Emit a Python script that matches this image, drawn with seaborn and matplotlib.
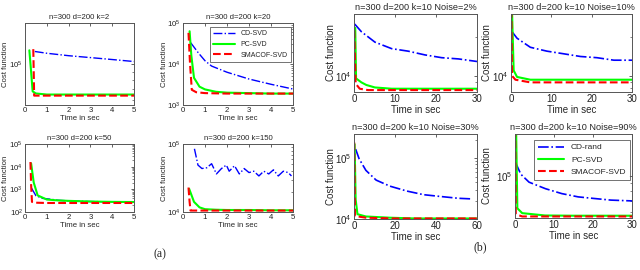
import matplotlib
matplotlib.use("Agg")
import matplotlib.pyplot as plt
import seaborn as sns
from matplotlib.ticker import NullFormatter, FixedLocator

# ---- data (time in sec, cost function) ----
# (a) n=300 d=200 k=2
a1_cd_x = [0.45, 1, 2, 3, 4, 5]
a1_cd_y = [1.20e5, 1.17e5, 1.13e5, 1.10e5, 1.07e5, 1.04e5]
a1_pc_x = [0.2, 0.28, 0.35, 0.5, 1, 2, 3, 4, 5]
a1_pc_y = [1.22e5, 9.0e4, 6.8e4, 6.6e4, 6.5e4, 6.5e4, 6.5e4, 6.5e4, 6.5e4]
a1_sm_x = [0.38, 0.40, 0.42, 0.6, 1, 2, 3, 4, 5]
a1_sm_y = [1.24e5, 9.0e4, 6.4e4, 6.4e4, 6.4e4, 6.4e4, 6.4e4, 6.4e4, 6.4e4]

# (a) n=300 d=200 k=20
a2_cd_x = [0.35, 0.7, 1.0, 1.3, 2.0, 3.0, 4.0, 5.0]
a2_cd_y = [33000, 18600, 12000, 8900, 6300, 4300, 3200, 2450]
a2_pc_x = [0.3, 0.38, 0.5, 0.75, 1.0, 1.5, 2, 3, 4, 5]
a2_pc_y = [63000, 15800, 4600, 2800, 2400, 2100, 2000, 1950, 1900, 1900]
a2_sm_x = [0.25, 0.32, 0.4, 0.6, 1, 2, 3, 4, 5]
a2_sm_y = [57500, 10000, 2350, 2050, 1950, 1900, 1900, 1900, 1900]

# (a) n=300 d=200 k=50
a3_cd_x = [0.3, 0.5, 0.8, 1.2, 1.5, 2, 3, 4, 5]
a3_cd_y = [1120, 525, 400, 365, 330, 310, 290, 280, 275]
a3_pc_x = [0.28, 0.4, 0.58, 1.0, 1.5, 2, 3, 4, 5]
a3_pc_y = [14000, 2000, 540, 355, 325, 310, 290, 280, 275]
a3_sm_x = [0.25, 0.28, 0.32, 0.5, 1, 2, 3, 4, 5]
a3_sm_y = [16000, 1600, 280, 257, 250, 250, 250, 250, 250]

# (a) n=300 d=200 k=150
a4_cd_x = [0.52, 0.68, 0.86, 1.08, 1.30, 1.52, 1.75, 1.97, 2.1, 2.34, 2.56,
           2.78, 3.0, 3.22, 3.45, 3.67, 3.9, 4.11, 4.33, 4.56, 4.78, 4.93]
a4_cd_y = [85000, 49000, 43600, 44700, 51300, 36300, 43600, 49000, 39800, 47900,
           36300, 43600, 38000, 39800, 33900, 39800, 36300, 41700, 33900, 39800,
           38000, 33900]
a4_pc_x = [0.28, 0.5, 0.75, 1.0, 1.5, 2, 3, 4, 5]
a4_pc_y = [21900, 14100, 11700, 11000, 10800, 10700, 10700, 10600, 10600]
a4_sm_x = [0.25, 0.3, 0.34, 0.6, 1, 2, 3, 4, 5]
a4_sm_y = [22900, 14100, 10500, 10500, 10500, 10500, 10500, 10500, 10500]

# (b) n=300 d=200 k=10 Noise=2%
b1_cd_x = [0.16, 1.8, 5.1, 9.2, 13.2, 17.3, 21.4, 25.5, 30]
b1_cd_y = [25100, 21900, 18200, 16200, 15500, 14500, 13800, 13500, 12900]
b1_pc_x = [0.3, 0.5, 1.8, 3.0, 5.1, 9.2, 15, 20, 25, 30]
b1_pc_y = [23400, 9550, 8900, 8500, 8130, 7950, 7950, 7950, 7950, 7950]
b1_sm_x = [0.05, 0.4, 1.4, 3.4, 10, 20, 30]
b1_sm_y = [22400, 8700, 7950, 7760, 7760, 7760, 7760]

# (b) Noise=10%
b2_cd_x = [0.25, 1.5, 4.8, 8.9, 13, 17.2, 21.3, 25.5, 30]
b2_cd_y = [21900, 19500, 16600, 15500, 14800, 14100, 13800, 13200, 13200]
b2_pc_x = [0.25, 0.66, 1.5, 4.8, 10, 17, 30]
b2_pc_y = [31600, 11000, 9800, 9330, 9330, 9330, 9330]
b2_sm_x = [0.05, 0.25, 1.1, 4.8, 10, 20, 30]
b2_sm_y = [40000, 10000, 9330, 8900, 8900, 8900, 8900]

# (b) Noise=30%
b3_cd_x = [0.8, 2.5, 5.8, 10.8, 17.5, 25.8, 34, 42.5, 51, 57.5]
b3_cd_y = [141000, 97700, 63100, 43600, 34700, 28800, 25100, 23400, 21900, 21400]
b3_pc_x = [0.3, 0.8, 1.7, 5.8, 17.5, 30, 45, 60]
b3_pc_y = [170000, 20900, 12000, 11000, 10500, 10200, 10200, 10200]
b3_sm_x = [0.1, 0.5, 5.8, 20, 40, 60]
b3_sm_y = [182000, 11200, 10500, 10200, 10200, 10200]

# (b) Noise=90%
b4_cd_x = [0.15, 1.5, 3.6, 7.8, 12, 16.2, 20.4, 24.6, 30]
b4_cd_y = [120000, 102000, 91200, 83200, 77600, 74100, 72400, 70800, 70000]
b4_pc_x = [0.3, 0.6, 1.85, 7.7, 15, 30]
b4_pc_y = [182000, 63100, 58900, 57000, 56800, 56800]
b4_sm_x = [0.02, 0.2, 1.85, 10, 20, 30]
b4_sm_y = [224000, 58100, 56200, 56200, 56200, 56200]

sns.set_style("white")
plt.rcParams["font.family"] = ["Liberation Sans", "DejaVu Sans"]

fig = plt.figure(figsize=(6.4, 2.7), dpi=100)


def box(l, t, r, b):
    return [l / 640, 1 - b / 270, (r - l) / 640, (b - t) / 270]


def panel(rect, title, series, xlim, xticks, ylim, yticks, fs, cd_label, legend_box=None,
          ylab_x=-0.15, lw=1.0, tfs=None, lfs=None):
    tfs = tfs or fs
    lfs = lfs or fs
    ax = fig.add_axes(rect)
    cd, pc, sm = series
    sns.lineplot(x=cd[0], y=cd[1], ax=ax, color="#0000ff", linestyle="-.", lw=lw,
                 estimator=None, sort=False, label=cd_label)
    sns.lineplot(x=pc[0], y=pc[1], ax=ax, color="#00ff00", linestyle="-", lw=1.5,
                 estimator=None, sort=False, label="PC-SVD")
    sns.lineplot(x=sm[0], y=sm[1], ax=ax, color="#ff0000", linestyle="--", lw=1.5,
                 estimator=None, sort=False, label="SMACOF-SVD")
    ax.set_yscale("log")
    ax.set_xlim(*xlim)
    ax.set_ylim(*ylim)
    ax.set_xticks(xticks)
    ax.yaxis.set_major_locator(FixedLocator(yticks))
    ax.yaxis.set_minor_formatter(NullFormatter())
    ax.tick_params(direction="in", top=True, right=True, labelsize=lfs, length=2,
                   width=0.5, pad=1.5, colors="#222222")
    ax.tick_params(which="minor", direction="in", right=True, length=1.2, width=0.4)
    for s in ax.spines.values():
        s.set_color("#555555")
        s.set_linewidth(0.7)
    ax.set_title(title, fontsize=tfs, pad=3)
    ax.set_xlabel("Time in sec", fontsize=lfs, labelpad=1)
    ax.set_ylabel("Cost function", fontsize=lfs, labelpad=1)
    ax.yaxis.set_label_coords(ylab_x, 0.5)
    if legend_box is not None:
        leg = ax.legend(loc="upper right", fontsize=fs - 0.6, frameon=True, fancybox=False,
                        edgecolor="#333333", handlelength=3.2, borderpad=0.45,
                        labelspacing=0.55, borderaxespad=0, bbox_to_anchor=legend_box)
        leg.get_frame().set_linewidth(0.6)
    else:
        ax.get_legend().remove()
    return ax


fa = 5.6
panel(box(25, 23, 134, 105), "n=300 d=200 k=2",
      [(a1_cd_x, a1_cd_y), (a1_pc_x, a1_pc_y), (a1_sm_x, a1_sm_y)],
      (0, 5), [0, 1, 2, 3, 4, 5], (5.6e4, 1.8e5), [1e5], fa, "CD-SVD", ylab_x=-0.15)
panel(box(183, 23, 293, 105), "n=300 d=200 k=20",
      [(a2_cd_x, a2_cd_y), (a2_pc_x, a2_pc_y), (a2_sm_x, a2_sm_y)],
      (0, 5), [0, 1, 2, 3, 4, 5], (1e3, 1e5), [1e3, 1e4, 1e5], fa, "CD-SVD",
      legend_box=(0.98, 0.95), ylab_x=-0.14)
panel(box(25, 144, 134, 212), "n=300 d=200 k=50",
      [(a3_cd_x, a3_cd_y), (a3_pc_x, a3_pc_y), (a3_sm_x, a3_sm_y)],
      (0, 5), [0, 1, 2, 3, 4, 5], (1e2, 1e5), [1e2, 1e3, 1e4, 1e5], fa, "CD-SVD",
      ylab_x=-0.15)
panel(box(183, 144, 293, 212), "n=300 d=200 k=150",
      [(a4_cd_x, a4_cd_y), (a4_pc_x, a4_pc_y), (a4_sm_x, a4_sm_y)],
      (0, 5), [0, 1, 2, 3, 4, 5], (1e4, 1e5), [1e4, 1e5], fa, "CD-SVD", ylab_x=-0.14)

fb = 6.6
fbl = 7.0
panel(box(354, 14, 477, 92), "n=300 d=200 k=10 Noise=2%",
      [(b1_cd_x, b1_cd_y), (b1_pc_x, b1_pc_y), (b1_sm_x, b1_sm_y)],
      (0, 30), [0, 10, 20, 30], (7.5e3, 3e4), [1e4], fb, "CD-rand", ylab_x=-0.145,
      lw=1.2, lfs=fbl)
panel(box(511, 14, 632, 92), "n=300 d=200 k=10 Noise=10%",
      [(b2_cd_x, b2_cd_y), (b2_pc_x, b2_pc_y), (b2_sm_x, b2_sm_y)],
      (0, 30), [0, 10, 20, 30], (7.5e3, 3e4), [1e4], fb, "CD-rand", ylab_x=-0.16,
      lw=1.2, lfs=fbl)
panel(box(354, 134, 477, 219), "n=300 d=200 k=10 Noise=30%",
      [(b3_cd_x, b3_cd_y), (b3_pc_x, b3_pc_y), (b3_sm_x, b3_sm_y)],
      (0, 60), [0, 20, 40, 60], (1e4, 2.5e5), [1e4, 1e5], fb, "CD-rand", ylab_x=-0.15,
      lw=1.2, lfs=fbl)
panel(box(515, 134, 632, 218), "n=300 d=200 k=10 Noise=90%",
      [(b4_cd_x, b4_cd_y), (b4_pc_x, b4_pc_y), (b4_sm_x, b4_sm_y)],
      (0, 30), [0, 10, 20, 30], (5.5e4, 1.8e5), [1e5], fb, "CD-rand",
      legend_box=(0.985, 0.93), ylab_x=-0.2, lw=1.2, lfs=fbl)

fig.text(160 / 640, 1 - 254 / 270, "(a)", ha="center", va="center", fontsize=8.5,
         family="Liberation Serif")
fig.text(480 / 640, 1 - 247 / 270, "(b)", ha="center", va="center", fontsize=8.5,
         family="Liberation Serif")

fig.savefig("out.png", dpi=100)
